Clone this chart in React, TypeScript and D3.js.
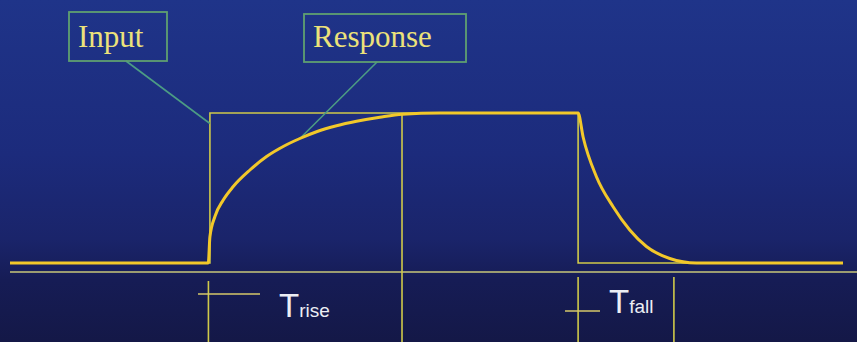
import React from 'react';
import * as d3 from 'd3';

// Step input vs. first-order response, with rise / fall time markers.

const WIDTH = 857;
const HEIGHT = 342;

// time axis in arbitrary units, level 0..1
const INPUT_STEPS: [number, number][] = [
  [0, 0],
  [24.0, 0],
  [24.0, 1],
  [68.2, 1],
  [68.2, 0],
  [100, 0],
];

const RESPONSE_POINTS: [number, number][] = [
  [0, 0],
  [23.8, 0],
  [24.0, 0.175],
  [24.6, 0.31],
  [25.6, 0.42],
  [26.8, 0.51],
  [28.8, 0.62],
  [30.8, 0.71],
  [32.8, 0.777],
  [34.8, 0.83],
  [36.8, 0.875],
  [39.2, 0.915],
  [41.6, 0.945],
  [44.4, 0.972],
  [47.1, 0.992],
  [51.6, 1],
  [68.2, 1],
  [68.8, 0.84],
  [70.4, 0.575],
  [72.4, 0.375],
  [74.4, 0.22],
  [76.4, 0.11],
  [79.2, 0.03],
  [82.4, 0],
  [100, 0],
];

const RISE_MARKERS = [24.0, 47.06];
const FALL_MARKERS = [68.2, 79.7];

const CALLOUTS = [
  { label: 'Input', box: [69, 12, 98, 49], from: [126, 61], target: [24.0, 0.93] },
  { label: 'Response', box: [304, 14, 162, 48], from: [377, 62], target: [34.8, 0.83] },
];

const THIN = '#cfc94a';
const THICK = '#f2c82a';
const BOX = '#5fa070';
const LEADER = '#4c9c84';
const TEXT_YELLOW = '#ece27a';
const TEXT_WHITE = '#eceef4';

export default function App() {
  const x = d3.scaleLinear().domain([0, 100]).range([10, 843]);
  const y = d3.scaleLinear().domain([0, 1]).range([263, 113]);
  const axisY = y(0) + 9;

  const stepLine = d3
    .line<[number, number]>()
    .x((d) => x(d[0]))
    .y((d) => y(d[1]));
  const smoothLine = d3
    .line<[number, number]>()
    .x((d) => x(d[0]))
    .y((d) => y(d[1]))
    .curve(d3.curveMonotoneX);

  return (
    <div style={{ position: 'fixed', left: 0, top: 0 }}>
      <svg width={WIDTH} height={HEIGHT} style={{ display: 'block' }}>
        <defs>
          <linearGradient id="bg" x1="0" y1="0" x2="0" y2="1">
            <stop offset="0" stopColor="#1f3489" />
            <stop offset="0.45" stopColor="#1c2b7c" />
            <stop offset="0.7" stopColor="#1a246a" />
            <stop offset="0.82" stopColor="#161c55" />
            <stop offset="1" stopColor="#141847" />
          </linearGradient>
        </defs>
        <rect width={WIDTH} height={HEIGHT} fill="url(#bg)" />

        {/* time axis */}
        <line x1={10} x2={WIDTH} y1={axisY} y2={axisY} stroke="#c9c77a" strokeWidth={1.5} />

        {/* input step */}
        <path d={stepLine(INPUT_STEPS) ?? ''} fill="none" stroke={THIN} strokeWidth={1.6} />

        {/* markers */}
        <line
          x1={x(RISE_MARKERS[1])}
          x2={x(RISE_MARKERS[1])}
          y1={y(1)}
          y2={HEIGHT}
          stroke={THIN}
          strokeWidth={1.6}
        />
        <line
          x1={x(RISE_MARKERS[0]) - 1.5}
          x2={x(RISE_MARKERS[0]) - 1.5}
          y1={axisY + 9}
          y2={HEIGHT}
          stroke={THIN}
          strokeWidth={1.6}
        />
        {FALL_MARKERS.map((t) => (
          <line key={t} x1={x(t)} x2={x(t)} y1={axisY + 5} y2={HEIGHT} stroke={THIN} strokeWidth={1.6} />
        ))}
        <line x1={198} x2={260} y1={294} y2={294} stroke="#d6c96a" strokeWidth={1.6} />
        <line x1={565} x2={600} y1={311} y2={311} stroke="#d6c96a" strokeWidth={1.6} />

        {/* callouts */}
        {CALLOUTS.map((c) => (
          <g key={c.label}>
            <line
              x1={c.from[0]}
              y1={c.from[1]}
              x2={x(c.target[0])}
              y2={y(c.target[1])}
              stroke={LEADER}
              strokeWidth={1.6}
            />
            <rect
              x={c.box[0]}
              y={c.box[1]}
              width={c.box[2]}
              height={c.box[3]}
              fill="none"
              stroke={BOX}
              strokeWidth={1.8}
            />
            <text
              x={c.box[0] + 9}
              y={47}
              fill={TEXT_YELLOW}
              fontFamily="'Liberation Serif', 'DejaVu Serif', serif"
              fontSize={31}
            >
              {c.label}
            </text>
          </g>
        ))}

        {/* response */}
        <path
          d={smoothLine(RESPONSE_POINTS) ?? ''}
          fill="none"
          stroke={THICK}
          strokeWidth={3}
          strokeLinejoin="round"
        />

        <text x={279} y={317} fill={TEXT_WHITE} fontFamily="'Liberation Sans', Arial, sans-serif">
          <tspan fontSize={33}>T</tspan>
          <tspan fontSize={19}>rise</tspan>
        </text>
        <text x={609} y={313} fill={TEXT_WHITE} fontFamily="'Liberation Sans', Arial, sans-serif">
          <tspan fontSize={33}>T</tspan>
          <tspan fontSize={19}>fall</tspan>
        </text>
      </svg>
    </div>
  );
}
